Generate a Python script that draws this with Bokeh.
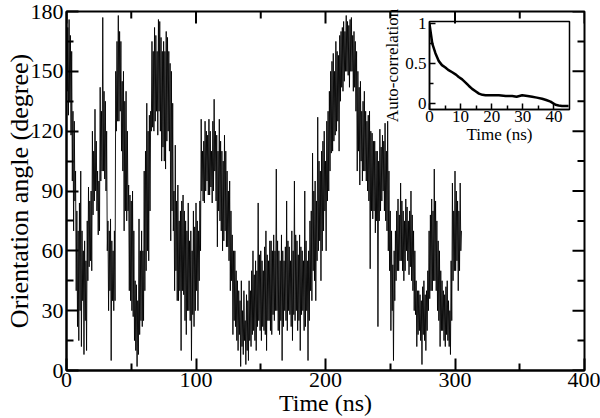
import math
from bokeh.plotting import figure
from bokeh.models import FixedTicker, GridBox, Range1d
from bokeh.embed import file_html
from bokeh.resources import INLINE

FONT = "Liberation Serif"

# ---- main trace: orientation angle (degree), one value every 0.5 ns from 0 to 305 ns ----
angle_deg = [
    165, 140, 172, 128, 176, 135, 168, 118, 160, 95, 130, 70, 125, 85, 100, 40, 80, 22, 70, 15,
    84, 30, 100, 12, 70, 35, 60, 8, 65, 25, 55, 10, 75, 45, 92, 52, 85, 55, 90, 50,
    120, 78, 110, 85, 131, 90, 115, 80, 100, 68, 95, 70, 142, 95, 130, 100, 177, 100, 140, 96,
    135, 90, 120, 60, 75, 30, 70, 40, 76, 5, 65, 35, 60, 30, 70, 35, 150, 120, 165, 125,
    178, 125, 170, 130, 165, 110, 145, 100, 150, 70, 135, 80, 140, 75, 120, 80, 93, 40, 88, 35,
    85, 30, 90, 27, 70, 15, 45, 10, 43, 2, 35, 8, 76, 18, 60, 25, 70, 22, 60, 25,
    100, 40, 110, 50, 134, 60, 120, 55, 128, 80, 130, 120, 165, 122, 160, 120, 172, 125, 168, 130,
    160, 118, 176, 130, 175, 120, 167, 105, 160, 112, 165, 105, 160, 101, 170, 115, 167, 120, 160, 110,
    154, 65, 150, 80, 134, 70, 90, 40, 113, 50, 85, 35, 93, 35, 75, 40, 80, 10, 85, 40,
    88, 38, 80, 25, 75, 18, 70, 30, 84, 30, 65, 25, 70, 5, 60, 28, 80, 22, 72, 30,
    84, 40, 75, 30, 70, 45, 85, 60, 126, 90, 110, 85, 115, 84, 125, 90, 120, 95, 118, 88,
    126, 88, 120, 92, 110, 84, 125, 90, 136, 100, 120, 85, 118, 62, 110, 80, 126, 75, 115, 70,
    110, 60, 105, 65, 118, 70, 110, 62, 100, 62, 90, 55, 95, 40, 80, 45, 68, 18, 60, 25,
    60, 22, 50, 15, 45, 10, 40, 18, 35, 2, 45, 12, 30, 8, 40, 15, 25, 3, 38, 10,
    35, 5, 45, 15, 40, 12, 50, 18, 60, 20, 48, 15, 55, 10, 50, 22, 84, 25, 58, 20,
    60, 15, 55, 22, 50, 20, 62, 18, 70, 10, 58, 25, 55, 25, 65, 20, 65, 18, 60, 28,
    68, 25, 60, 30, 101, 30, 65, 20, 60, 18, 55, 25, 68, 5, 60, 22, 55, 30, 62, 25,
    85, 20, 65, 30, 62, 28, 55, 22, 70, 15, 60, 28, 95, 25, 68, 30, 65, 20, 58, 25,
    68, 10, 62, 28, 60, 30, 55, 20, 90, 22, 65, 30, 55, 5, 60, 25, 75, 40, 80, 35,
    109, 50, 90, 45, 95, 35, 85, 55, 127, 60, 105, 65, 100, 45, 110, 60, 115, 70, 120, 80,
    105, 60, 125, 85, 130, 90, 140, 100, 150, 109, 155, 110, 159, 115, 150, 118, 165, 120, 160, 125,
    158, 110, 168, 135, 170, 142, 172, 140, 175, 145, 170, 150, 178, 150, 175, 148, 173, 142, 176, 150,
    177, 150, 168, 140, 170, 142, 165, 130, 160, 100, 150, 110, 142, 93, 145, 105, 130, 95, 135, 100,
    140, 100, 130, 95, 125, 90, 128, 85, 130, 51, 120, 80, 119, 76, 115, 80, 115, 69, 110, 75,
    110, 22, 105, 75, 121, 80, 112, 85, 118, 90, 115, 80, 124, 75, 110, 70, 125, 60, 100, 50,
    80, 20, 70, 30, 53, 5, 60, 35, 70, 45, 80, 50, 86, 50, 78, 55, 94, 55, 85, 50,
    80, 45, 75, 50, 86, 60, 82, 55, 75, 48, 80, 52, 90, 45, 78, 40, 70, 30, 60, 28,
    45, 12, 40, 18, 40, 20, 38, 15, 35, 3, 42, 18, 45, 15, 38, 10, 40, 20, 50, 30,
    70, 36, 78, 40, 86, 40, 80, 45, 101, 45, 85, 40, 75, 30, 65, 25, 60, 12, 50, 20,
    45, 20, 40, 15, 38, 12, 42, 18, 45, 15, 35, 12, 30, 8, 55, 25, 94, 45, 80, 50,
    100, 50, 90, 55, 85, 40, 80, 50, 94, 60, 70,
]
time_ns = [i * 0.5 for i in range(len(angle_deg))]

# ---- inset: auto-correlation ----
acf_time = [0, 0.9, 1.9, 3, 4, 5.1, 6, 7.3, 8.5, 9.4, 10.5, 11.6, 12.6, 13.7,
            14.8, 15.9, 17, 18, 20, 22.3, 24.5, 26.6, 28, 29.8, 31.5, 33,
            34.5, 36.2, 37.5, 38.9, 40.5, 41.5, 42.6, 44.7]
acf_value = [1.0, 0.75, 0.63, 0.53, 0.48, 0.45, 0.42, 0.39, 0.36, 0.33, 0.30,
             0.26, 0.22, 0.18, 0.15, 0.12, 0.105, 0.10, 0.10, 0.10, 0.09, 0.09,
             0.08, 0.10, 0.09, 0.08, 0.07, 0.056, 0.04, 0.02, -0.02, -0.03,
             -0.035, -0.035]

# ---- ticks ----
x_ticks = [0, 100, 200, 300, 400]
x_minor = [50, 150, 250, 350]
y_ticks = [0, 30, 60, 90, 120, 150, 180]
y_minor = [15, 45, 75, 105, 135, 165]
ix_ticks = [0, 10, 20, 30, 40]
ix_minor = [5, 15, 25, 35]
iy_ticks = [0, 0.5, 1]
iy_minor = [0.25, 0.75]
iy_labels = {0: "0", 0.5: "0.5", 1: "1"}


def style_axis(ax, font_size, label_size, tin, tmin, lw):
    ax.axis_line_width = lw
    ax.axis_line_color = "black"
    ax.major_tick_in = tin
    ax.major_tick_out = 0
    ax.minor_tick_in = tmin
    ax.minor_tick_out = 0
    ax.major_tick_line_width = lw
    ax.minor_tick_line_width = lw
    ax.major_tick_line_color = "black"
    ax.minor_tick_line_color = "black"
    ax.major_label_text_font = FONT
    ax.major_label_text_font_size = font_size
    ax.major_label_text_color = "black"
    ax.major_label_text_line_height = 1.0
    ax.axis_label_text_font = FONT
    ax.axis_label_text_font_size = label_size
    ax.axis_label_text_font_style = "normal"
    ax.axis_label_text_color = "black"
    ax.axis_label_text_line_height = 1.0


x_rng = Range1d(0, 400)
y_rng = Range1d(0, 180)
p = figure(width=600, height=418, x_range=x_rng, y_range=y_rng,
           output_backend="svg", toolbar_location=None,
           min_border_left=66, min_border_right=16, min_border_top=11, min_border_bottom=48,
           background_fill_color="white", border_fill_color="white")
p.grid.visible = False
p.outline_line_color = "black"
p.outline_line_width = 2
p.line(time_ns, angle_deg, line_color="black", line_width=0.9)

p.xaxis.ticker = FixedTicker(ticks=x_ticks, minor_ticks=x_minor)
p.yaxis.ticker = FixedTicker(ticks=y_ticks, minor_ticks=y_minor)
p.xaxis.axis_label = "Time (ns)"
p.yaxis.axis_label = "Orientation angle (degree)"
style_axis(p.xaxis[0], "22px", "24px", 12, 7, 2)
style_axis(p.yaxis[0], "22px", "26px", 12, 7, 2)
p.xaxis.major_label_standoff = 2
p.xaxis.axis_label_standoff = 0
p.yaxis.major_label_standoff = 3
p.yaxis.axis_label_standoff = -6

# inward ticks on the top and right frame edges (the half of each marker outside the frame is clipped)
p.scatter(x_ticks, [y_rng.end] * len(x_ticks), marker="dash", size=24, angle=math.pi / 2,
          line_color="black", line_width=2)
p.scatter(x_minor, [y_rng.end] * len(x_minor), marker="dash", size=14, angle=math.pi / 2,
          line_color="black", line_width=2)
p.scatter([x_rng.end] * len(y_ticks), y_ticks, marker="dash", size=24,
          line_color="black", line_width=2)
p.scatter([x_rng.end] * len(y_minor), y_minor, marker="dash", size=14,
          line_color="black", line_width=2)

q = figure(width=202, height=139, x_range=Range1d(0, 45), y_range=Range1d(-0.08, 1.03),
           output_backend="svg", toolbar_location=None,
           min_border_left=56, min_border_right=6, min_border_top=14, min_border_bottom=30,
           background_fill_alpha=0, border_fill_alpha=0)
q.grid.visible = False
q.outline_line_color = "black"
q.outline_line_width = 1.5
q.line(acf_time, acf_value, line_color="black", line_width=2.5)
q.xaxis.ticker = FixedTicker(ticks=ix_ticks, minor_ticks=ix_minor)
q.yaxis.ticker = FixedTicker(ticks=iy_ticks, minor_ticks=iy_minor)
q.yaxis.major_label_overrides = iy_labels
q.xaxis.axis_label = "Time (ns)"
q.yaxis.axis_label = "Auto-correlation"
for ax in (q.xaxis[0], q.yaxis[0]):
    style_axis(ax, "17px", "17px", 6, 4, 1.5)
q.xaxis.major_label_standoff = 1
q.xaxis.axis_label_standoff = 0
q.yaxis.major_label_standoff = 3
q.yaxis.axis_label_standoff = 0

layout = GridBox(children=[(p, 0, 0, 3, 3), (q, 1, 1)],
                 rows=["7px", "139px", "272px"], cols=["373px", "202px", "25px"])

open("out.html", "w").write(file_html(layout, INLINE))
